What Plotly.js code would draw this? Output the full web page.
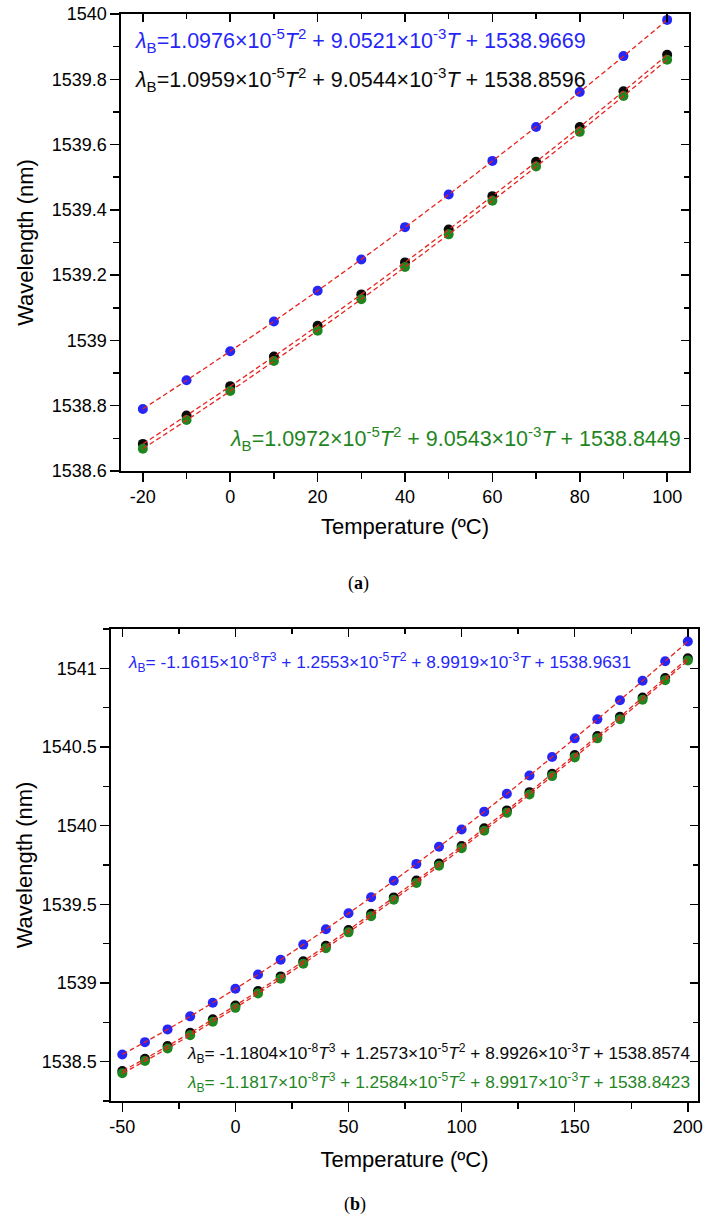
<!DOCTYPE html>
<html>
<head>
<meta charset="utf-8">
<script src="https://cdn.plot.ly/plotly-3.0.1.min.js"></script>
<style>html,body{margin:0;padding:0;background:#fff}</style>
</head>
<body>
<div id="chart" style="width:707px;height:1225px"></div>
<script>
// ---- (a) -20 to 100 °C, quadratic fits ----
const tempA = [-20, -10, 0, 10, 20, 30, 40, 50, 60, 70, 80, 90, 100];
const blueA  = [1538.790, 1538.878, 1538.967, 1539.058, 1539.152, 1539.248, 1539.347, 1539.447, 1539.550, 1539.654, 1539.761, 1539.871, 1539.982];
const blackA = [1538.683, 1538.770, 1538.860, 1538.951, 1539.045, 1539.141, 1539.239, 1539.340, 1539.442, 1539.547, 1539.654, 1539.763, 1539.875];
const greenA = [1538.668, 1538.756, 1538.845, 1538.937, 1539.030, 1539.126, 1539.225, 1539.325, 1539.428, 1539.533, 1539.639, 1539.749, 1539.860];
// fit coefficients, constant term first
const fitBlueA  = [1538.9669, 9.0521e-3, 1.0976e-5];
const fitBlackA = [1538.8596, 9.0544e-3, 1.0959e-5];
const fitGreenA = [1538.8449, 9.0543e-3, 1.0972e-5];
const xTicksA = [-20, 0, 20, 40, 60, 80, 100];
const xTickTextA = ['-20', '0', '20', '40', '60', '80', '100'];
const yTicksA = [1538.6, 1538.8, 1539, 1539.2, 1539.4, 1539.6, 1539.8, 1540];
const yTickTextA = ['1538.6', '1538.8', '1539', '1539.2', '1539.4', '1539.6', '1539.8', '1540'];

// ---- (b) -50 to 200 °C, cubic fits ----
const tempB = [-50, -40, -30, -20, -10, 0, 10, 20, 30, 40, 50, 60, 70, 80, 90, 100, 110, 120, 130, 140, 150, 160, 170, 180, 190, 200];
const blueB  = [1538.546, 1538.624, 1538.705, 1538.788, 1538.874, 1538.963, 1539.054, 1539.148, 1539.244, 1539.342, 1539.443, 1539.545, 1539.650, 1539.757, 1539.866, 1539.976, 1540.089, 1540.203, 1540.319, 1540.436, 1540.555, 1540.676, 1540.797, 1540.921, 1541.045, 1541.171];
const blackB = [1538.441, 1538.519, 1538.599, 1538.683, 1538.769, 1538.857, 1538.949, 1539.042, 1539.138, 1539.237, 1539.337, 1539.440, 1539.544, 1539.651, 1539.760, 1539.871, 1539.983, 1540.097, 1540.213, 1540.330, 1540.449, 1540.570, 1540.692, 1540.815, 1540.939, 1541.064];
const greenB = [1538.426, 1538.504, 1538.584, 1538.668, 1538.754, 1538.842, 1538.934, 1539.027, 1539.123, 1539.221, 1539.322, 1539.425, 1539.529, 1539.636, 1539.745, 1539.856, 1539.968, 1540.082, 1540.198, 1540.315, 1540.434, 1540.555, 1540.677, 1540.800, 1540.924, 1541.050];
const fitBlueB  = [1538.9631, 8.9919e-3, 1.2553e-5, -1.1615e-8];
const fitBlackB = [1538.8574, 8.9926e-3, 1.2573e-5, -1.1804e-8];
const fitGreenB = [1538.8423, 8.9917e-3, 1.2584e-5, -1.1817e-8];
const xTicksB = [-50, 0, 50, 100, 150, 200];
const xTickTextB = ['-50', '0', '50', '100', '150', '200'];
const yTicksB = [1538.5, 1539, 1539.5, 1540, 1540.5, 1541];
const yTickTextB = ['1538.5', '1539', '1539.5', '1540', '1540.5', '1541'];

const COL_BLUE = '#2626f7', COL_BLACK = '#0a0a0a', COL_GREEN = '#1f861f';
const COL_FIT = '#e8231e';
const FONT = 'Liberation Sans, Arial, sans-serif';

// evaluate a polynomial (constant term first) at each temperature
function poly(coef, ts) {
  return ts.map(t => coef.reduce((s, c, i) => s + c * Math.pow(t, i), 0));
}

function pts(x, y, color, xa, ya) {
  return {x, y, xaxis: xa, yaxis: ya, mode: 'markers', type: 'scatter', hoverinfo: 'skip',
    marker: {color, size: 10, line: {width: 0}}};
}
function fit(x, coef, xa, ya) {
  return {x, y: poly(coef, x), xaxis: xa, yaxis: ya, mode: 'lines', type: 'scatter', hoverinfo: 'skip',
    line: {color: COL_FIT, width: 1.3, dash: '5px,3px', shape: 'spline'}};
}
// empty traces so the mirrored tick axes get drawn
function ghost(xa, ya) { return {x: [], y: [], xaxis: xa, yaxis: ya, type: 'scatter', mode: 'markers', hoverinfo: 'skip'}; }

const traces = [
  pts(tempA, blueA, COL_BLUE, 'x', 'y'),
  pts(tempA, blackA, COL_BLACK, 'x', 'y'),
  pts(tempA, greenA, COL_GREEN, 'x', 'y'),
  fit(tempA, fitBlueA, 'x', 'y'),
  fit(tempA, fitBlackA, 'x', 'y'),
  fit(tempA, fitGreenA, 'x', 'y'),
  pts(tempB, blueB, COL_BLUE, 'x2', 'y2'),
  pts(tempB, blackB, COL_BLACK, 'x2', 'y2'),
  pts(tempB, greenB, COL_GREEN, 'x2', 'y2'),
  fit(tempB, fitBlueB, 'x2', 'y2'),
  fit(tempB, fitBlackB, 'x2', 'y2'),
  fit(tempB, fitGreenB, 'x2', 'y2'),
  ghost('x3', 'y'), ghost('x', 'y3'), ghost('x4', 'y2'), ghost('x2', 'y4')
];

const W = 707, H = 1225;
const domX = (a, b) => [a / W, b / W];
const domY = (top, bottom) => [1 - bottom / H, 1 - top / H];

const tickFont = {family: FONT, size: 18, color: '#000'};
const titleFont = {family: FONT, size: 22, color: '#000'};
const minorOut = (tick0, dtick) => ({tickmode: 'linear', tick0, dtick, ticks: 'outside', ticklen: 6, tickwidth: 1.5, tickcolor: '#000', showgrid: false});
const minorIn = (tick0, dtick) => ({tickmode: 'linear', tick0, dtick, ticks: 'inside', ticklen: 5, tickwidth: 1.5, tickcolor: '#000', showgrid: false});

function baseAxis(extra) {
  return Object.assign({
    showline: true, linecolor: '#000', linewidth: 1.6, mirror: true,
    ticks: 'outside', ticklen: 9, tickwidth: 1.5, tickcolor: '#000',
    showgrid: false, zeroline: false, tickfont: tickFont, tickmode: 'array',
    fixedrange: true
  }, extra);
}
function innerAxis(extra) {
  return Object.assign({
    showline: false, ticks: 'inside', ticklen: 8, tickwidth: 1.5, tickcolor: '#000',
    showgrid: false, zeroline: false, showticklabels: false, tickmode: 'array', fixedrange: true
  }, extra);
}

const rangeXA = [-25, 105], rangeYA = [1538.6, 1540];
const rangeXB = [-55, 204.5], rangeYB = [1538.25, 1541.25];

const eqFontA = 21.5, eqFontB = 17.3;

const layout = {
  width: W, height: H,
  margin: {l: 0, r: 0, t: 0, b: 0},
  paper_bgcolor: '#fff', plot_bgcolor: '#fff',
  showlegend: false,
  font: {family: FONT, color: '#000'},
  xaxis: baseAxis({domain: domX(121, 689), anchor: 'y', range: rangeXA,
    tickvals: xTicksA, ticktext: xTickTextA, minor: minorOut(0, 10),
    title: {text: 'Temperature (ºC)', font: titleFont, standoff: 12}}),
  yaxis: baseAxis({domain: domY(14, 471), anchor: 'x', range: rangeYA,
    tickvals: yTicksA, ticktext: yTickTextA, minor: minorOut(1538.6, 0.1),
    title: {text: 'Wavelength (nm)', font: titleFont, standoff: 12}}),
  xaxis3: innerAxis({overlaying: 'x', side: 'top', anchor: 'y', range: rangeXA, tickvals: xTicksA, minor: minorIn(0, 10)}),
  yaxis3: innerAxis({overlaying: 'y', side: 'right', anchor: 'x', range: rangeYA, tickvals: yTicksA, minor: minorIn(1538.6, 0.1)}),

  xaxis2: baseAxis({domain: domX(111, 698), anchor: 'y2', range: rangeXB,
    tickvals: xTicksB, ticktext: xTickTextB, minor: minorOut(0, 25),
    title: {text: 'Temperature (ºC)', font: titleFont, standoff: 15}}),
  yaxis2: baseAxis({domain: domY(629, 1101), anchor: 'x2', range: rangeYB,
    tickvals: yTicksB, ticktext: yTickTextB, minor: minorOut(1538.5, 0.25),
    title: {text: 'Wavelength (nm)', font: titleFont, standoff: 3}}),
  xaxis4: innerAxis({overlaying: 'x2', side: 'top', anchor: 'y2', range: rangeXB, tickvals: xTicksB, minor: minorIn(0, 25)}),
  yaxis4: innerAxis({overlaying: 'y2', side: 'right', anchor: 'x2', range: rangeYB, tickvals: yTicksB, minor: minorIn(1538.5, 0.25)}),

  annotations: [
    {xref: 'x', yref: 'y', x: -22.2, y: 1539.92, xanchor: 'left', yanchor: 'middle', showarrow: false,
      font: {family: FONT, size: eqFontA, color: COL_BLUE},
      text: '<i>λ</i><sub>B</sub>=1.0976×10<sup>-5</sup><i>T</i><sup>2</sup> + 9.0521×10<sup>-3</sup><i>T</i> + 1538.9669'},
    {xref: 'x', yref: 'y', x: -22.2, y: 1539.80, xanchor: 'left', yanchor: 'middle', showarrow: false,
      font: {family: FONT, size: eqFontA, color: COL_BLACK},
      text: '<i>λ</i><sub>B</sub>=1.0959×10<sup>-5</sup><i>T</i><sup>2</sup> + 9.0544×10<sup>-3</sup><i>T</i> + 1538.8596'},
    {xref: 'x', yref: 'y', x: 103.6, y: 1538.70, xanchor: 'right', yanchor: 'middle', showarrow: false,
      font: {family: FONT, size: eqFontA, color: COL_GREEN},
      text: '<i>λ</i><sub>B</sub>=1.0972×10<sup>-5</sup><i>T</i><sup>2</sup> + 9.0543×10<sup>-3</sup><i>T</i> + 1538.8449'},
    {xref: 'x2', yref: 'y2', x: -48.2, y: 1541.04, xanchor: 'left', yanchor: 'middle', showarrow: false,
      font: {family: FONT, size: eqFontB, color: COL_BLUE},
      text: '<i>λ</i><sub>B</sub>= -1.1615×10<sup>-8</sup><i>T</i><sup>3</sup> + 1.2553×10<sup>-5</sup><i>T</i><sup>2</sup> + 8.9919×10<sup>-3</sup><i>T</i> + 1538.9631'},
    {xref: 'x2', yref: 'y2', x: 201.8, y: 1538.555, xanchor: 'right', yanchor: 'middle', showarrow: false,
      font: {family: FONT, size: eqFontB, color: COL_BLACK},
      text: '<i>λ</i><sub>B</sub>= -1.1804×10<sup>-8</sup><i>T</i><sup>3</sup> + 1.2573×10<sup>-5</sup><i>T</i><sup>2</sup> + 8.9926×10<sup>-3</sup><i>T</i> + 1538.8574'},
    {xref: 'x2', yref: 'y2', x: 201.8, y: 1538.37, xanchor: 'right', yanchor: 'middle', showarrow: false,
      font: {family: FONT, size: eqFontB, color: COL_GREEN},
      text: '<i>λ</i><sub>B</sub>= -1.1817×10<sup>-8</sup><i>T</i><sup>3</sup> + 1.2584×10<sup>-5</sup><i>T</i><sup>2</sup> + 8.9917×10<sup>-3</sup><i>T</i> + 1538.8423'},
    {xref: 'paper', yref: 'paper', x: 358 / W, y: 1 - 584 / H, xanchor: 'center', yanchor: 'middle', showarrow: false,
      font: {family: 'Liberation Serif, DejaVu Serif, serif', size: 18, color: '#000'}, text: '(<b>a</b>)'},
    {xref: 'paper', yref: 'paper', x: 355 / W, y: 1 - 1204 / H, xanchor: 'center', yanchor: 'middle', showarrow: false,
      font: {family: 'Liberation Serif, DejaVu Serif, serif', size: 18, color: '#000'}, text: '(<b>b</b>)'}
  ]
};

Plotly.newPlot('chart', traces, layout, {displayModeBar: false, staticPlot: true});
</script>
</body>
</html>
